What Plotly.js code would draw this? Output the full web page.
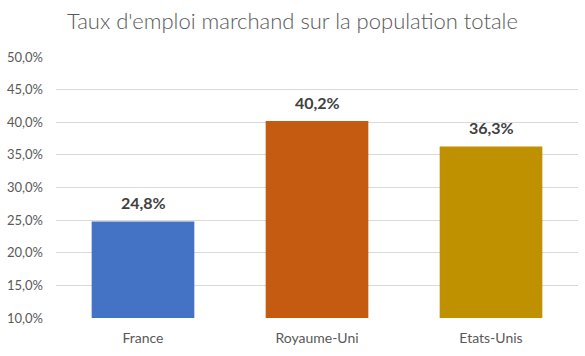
<!DOCTYPE html>
<html><head><meta charset="utf-8">
<script src="https://cdn.plot.ly/plotly-3.0.1.min.js"></script>
<style>html,body{margin:0;padding:0;background:#fff}#c{width:585px;height:356px}</style>
</head><body><div id="c"></div>
<script>
const categories = ["France", "Royaume-Uni", "Etats-Unis"];
const values = [24.8, 40.2, 36.3];
const colors = ["#4472C4", "#C55A11", "#BF9000"];
const yTicks = [10, 15, 20, 25, 30, 35, 40, 45, 50];

const fmt = v => v.toFixed(1).replace(".", ",") + "%";
const FONT = "Lato, 'Open Sans', sans-serif";

const trace = {
  type: "bar",
  x: categories,
  y: values.map(v => v - 10),
  base: 10,
  marker: {color: colors},
  width: 0.59,
  hoverinfo: "none"
};

const annotations = categories.map((c, i) => ({
  x: c, y: values[i], xref: "x", yref: "y",
  text: "<b>" + fmt(values[i]) + "</b>",
  showarrow: false, yanchor: "bottom", yshift: 7,
  font: {family: FONT, size: 16, color: "#404040"}
}));

const layout = {
  width: 585, height: 356,
  margin: {l: 56, r: 7, t: 57, b: 38},
  paper_bgcolor: "#fff", plot_bgcolor: "#fff",
  title: {text: "Taux d'emploi marchand sur la population totale",
          font: {family: FONT, size: 22, color: "#595959", weight: 300},
          x: 0.5, xanchor: "center", y: 0.94, yanchor: "middle"},
  showlegend: false,
  annotations: annotations,
  xaxis: {tickfont: {family: FONT, size: 14, color: "#595959"},
          showgrid: false, zeroline: false, showline: false, ticks: "", ticklabelstandoff: 10},
  yaxis: {range: [10, 50], tickmode: "array", tickvals: yTicks, ticktext: yTicks.map(fmt),
          tickfont: {family: FONT, size: 13, color: "#595959"},
          gridcolor: "#d9d9d9", gridwidth: 1, zeroline: false, showline: false, ticks: "", ticklabelstandoff: 12}
};

Plotly.newPlot("c", [trace], layout, {displayModeBar: false, staticPlot: true});
</script></body></html>
